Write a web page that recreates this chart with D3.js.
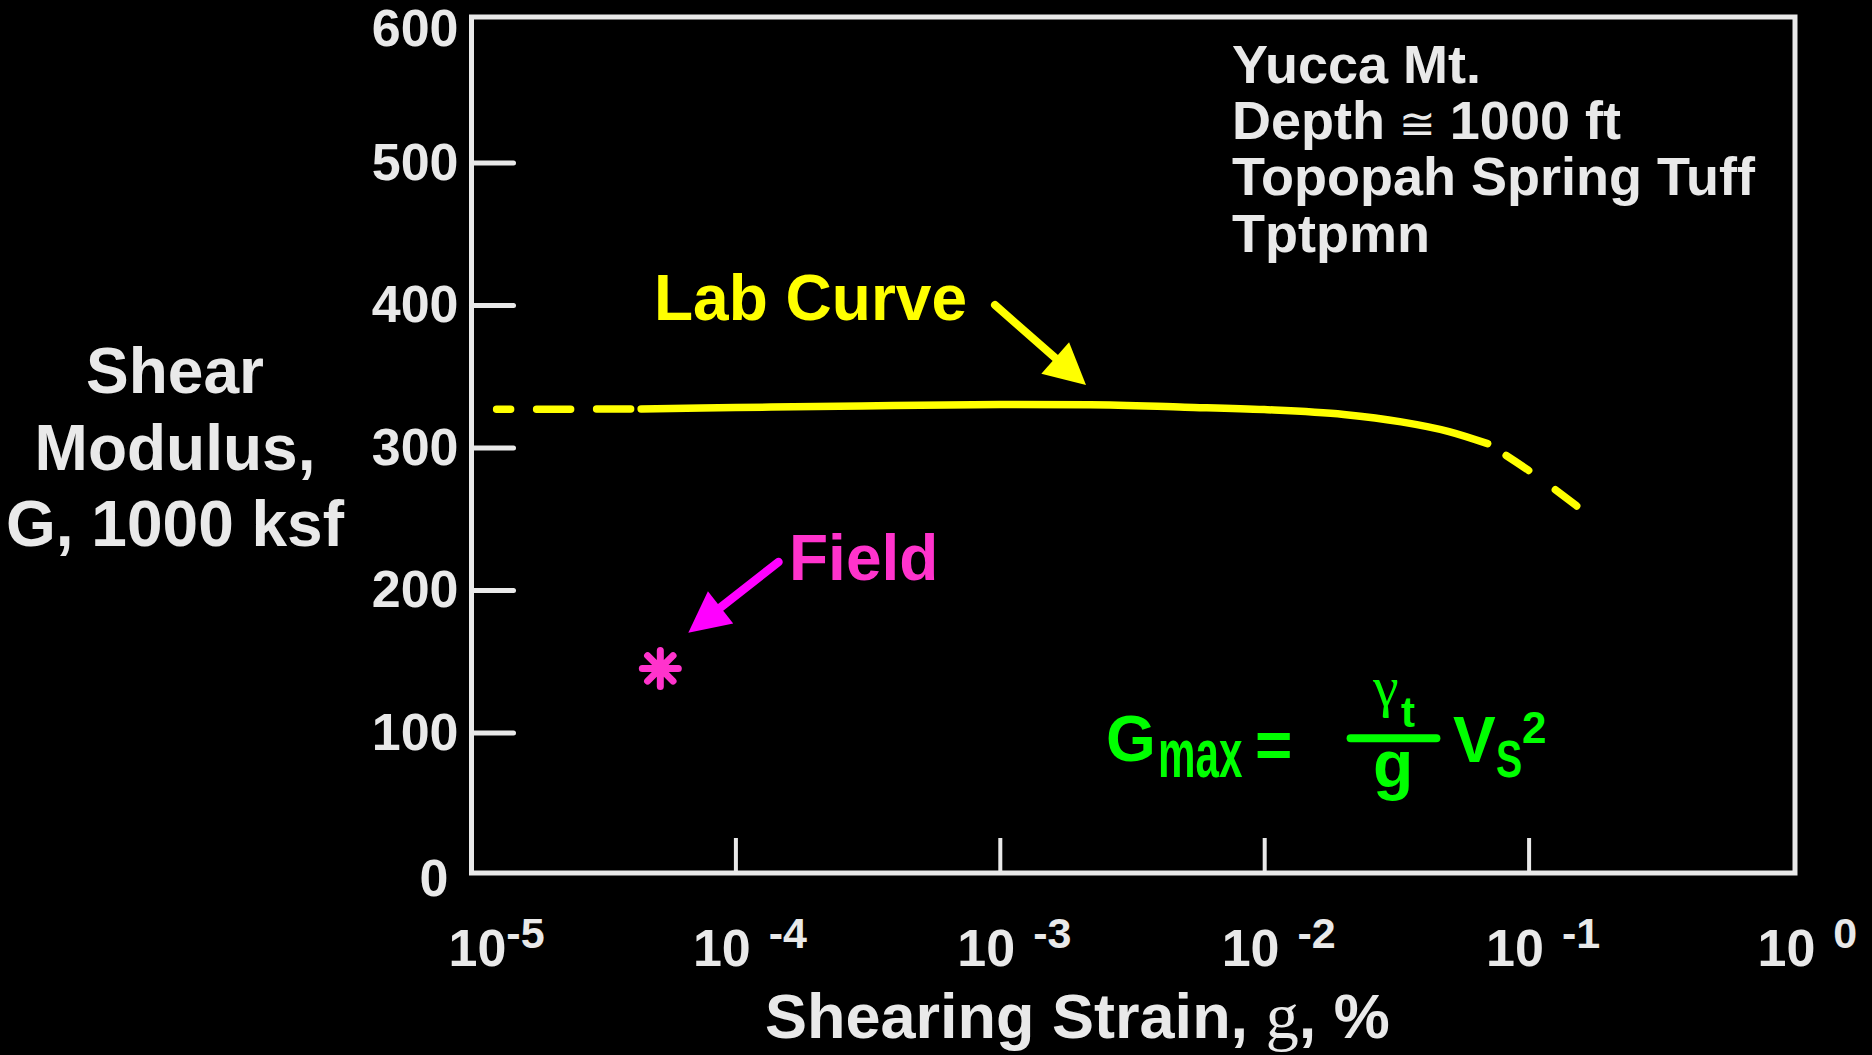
<!DOCTYPE html>
<html>
<head>
<meta charset="utf-8">
<script src="https://cdn.jsdelivr.net/npm/d3@7"></script>
<style>
  html, body { margin: 0; padding: 0; background: #000; }
  svg { display: block; }
  text { font-family: "Liberation Sans", Arial, Helvetica, sans-serif; font-weight: bold; }
</style>
</head>
<body>
<svg id="chart" width="1872" height="1055"></svg>
<script>
// Axis ticks: shearing strain (%) on a log scale, shear modulus in 1000 ksf
const xTickValues = [1e-5, 1e-4, 1e-3, 1e-2, 1e-1, 1];
const xTickExponents = ["-5", "-4", "-3", "-2", "-1", "0"];
const yTickValues = [0, 100, 200, 300, 400, 500, 600];

// Laboratory modulus reduction curve
const labStrain  = [1.25e-5, 2e-5, 4.4e-5, 1e-4, 3e-4, 1e-3, 2.2e-3, 5e-3, 1e-2, 2e-2, 3.3e-2, 5e-2, 7e-2, 1e-1, 1.52e-1];
const labModulus = [326.8, 326.9, 327.0, 328.0, 329.2, 330.1, 330.0, 328.3, 326.6, 323.2, 318.0, 311.2, 302.7, 283.9, 259.0];
// strain range covered by the test data (solid); outside it the curve is extrapolated (dashed)
const labSolidRange = [4.4e-5, 7e-2];

// Field (seismic) measurement
const fieldStrain  = [5.2e-5];
const fieldModulus = [145];

// Site description
const siteNotes = ["Yucca Mt.", "Depth", "Topopah Spring Tuff", "Tptpmn"];
const yTitleLines = ["Shear", "Modulus,", "G, 1000 ksf"];

const W = 1872, H = 1055;
const ink = "#e9e9e9";
const yellow = "#ffff00";
const pink = "#ff33cc";
const magenta = "#ff00ff";
const green = "#00ff00";

const svg = d3.select("#chart");
svg.append("rect").attr("width", W).attr("height", H).attr("fill", "#000");

const x = d3.scaleLog().domain([1e-5, 1]).range([471, 1793]);
const y = d3.scaleLinear().domain([0, 600]).range([875, 20]);

// Plot frame
svg.append("rect")
  .attr("x", 471.5).attr("y", 17)
  .attr("width", 1323.5).attr("height", 856)
  .attr("fill", "none").attr("stroke", ink).attr("stroke-width", 5);

// Y axis: inward ticks, labels on the left
const yAxisG = svg.append("g")
  .attr("transform", "translate(471.5,0)")
  .call(d3.axisLeft(y).tickValues(yTickValues).tickSizeInner(-42).tickSizeOuter(0).tickPadding(13));
yAxisG.attr("font-size", null).attr("font-family", null);
yAxisG.select(".domain").remove();
yAxisG.selectAll(".tick line")
  .attr("stroke", ink).attr("stroke-width", 5).attr("stroke-linecap", "round")
  .filter(d => d === 0 || d === 600).remove();
yAxisG.selectAll(".tick text")
  .attr("fill", ink).style("font-size", "52px")
  .attr("transform", d => d === 600 ? "translate(0,9)" : d === 0 ? "translate(-10,4)" : null);

// X axis: inward ticks, power-of-ten labels below
const xAxisG = svg.append("g")
  .attr("transform", "translate(0,873)")
  .call(d3.axisBottom(x).tickValues(xTickValues).tickSizeInner(-35).tickSizeOuter(0).tickFormat(""));
xAxisG.attr("font-size", null).attr("font-family", null).attr("text-anchor", "start");
xAxisG.select(".domain").remove();
xAxisG.selectAll(".tick text").remove();
xAxisG.selectAll(".tick line")
  .attr("stroke", ink).attr("stroke-width", 4)
  .filter(d => d === 1e-5 || d === 1).remove();
xAxisG.selectAll(".tick").each(function (d, i) {
  const lead = i === 0 ? -23 : i === xTickValues.length - 1 ? -36 : -43;
  const t = d3.select(this).append("text")
    .attr("x", lead).attr("y", 92.7)
    .attr("text-anchor", "start")
    .attr("fill", ink).style("font-size", "52px");
  t.append("tspan").text("10");
  t.append("tspan")
    .attr("dx", i === 0 ? 0 : 18).attr("dy", -18)
    .style("font-size", "43px")
    .text(xTickExponents[i]);
});

// Axis titles
const yTitle = svg.append("text")
  .attr("text-anchor", "middle").attr("fill", ink).style("font-size", "64px");
yTitleLines.forEach((s, i) => {
  yTitle.append("tspan").attr("x", 175).attr("y", 393 + i * 76.5).text(s);
});

const xTitle = svg.append("text")
  .attr("x", 765).attr("y", 1038)
  .attr("fill", ink).style("font-size", "63px");
xTitle.append("tspan").text("Shearing Strain, ");
xTitle.append("tspan")
  .style("font-family", "'Liberation Serif', 'Times New Roman', serif")
  .style("font-weight", "normal").style("font-size", "66px")
  .text("g");
xTitle.append("tspan").text(", %");

// Laboratory curve: dashed where extrapolated, solid over the tested range
const labPts = labStrain.map((s, i) => [s, labModulus[i]]);
const lineGen = d3.line().x(d => x(d[0])).y(d => y(d[1])).curve(d3.curveMonotoneX);
const labLeft  = labPts.filter(p => p[0] <= labSolidRange[0]);
const labMid   = labPts.filter(p => p[0] >= labSolidRange[0] && p[0] <= labSolidRange[1]);
const labRight = labPts.filter(p => p[0] >= labSolidRange[1]);

const labG = svg.append("g")
  .attr("fill", "none").attr("stroke", yellow)
  .attr("stroke-width", 7.5).attr("stroke-linecap", "round");
labG.append("path").attr("d", lineGen(labLeft))
  .attr("stroke-dasharray", "34 26").attr("stroke-dashoffset", 20);
labG.append("path").attr("d", lineGen(labMid));
labG.append("path").attr("d", lineGen(labRight))
  .attr("stroke-dasharray", "27 33").attr("stroke-dashoffset", 38);

// Field point drawn as an eight-armed asterisk
const arm = 18;
const fieldG = svg.append("g");
fieldStrain.forEach((s, i) => {
  const cx = x(s), cy = y(fieldModulus[i]);
  const p = d3.path();
  for (let k = 0; k < 4; k++) {
    const a = k * Math.PI / 4;
    p.moveTo(cx - arm * Math.cos(a), cy - arm * Math.sin(a));
    p.lineTo(cx + arm * Math.cos(a), cy + arm * Math.sin(a));
  }
  fieldG.append("path").attr("d", p.toString())
    .attr("stroke", pink).attr("stroke-width", 7).attr("stroke-linecap", "round");
});

// Callout arrows
function arrow(from, tip, headLen, headWidth, color, width) {
  const dx = tip[0] - from[0], dy = tip[1] - from[1];
  const len = Math.hypot(dx, dy);
  const ux = dx / len, uy = dy / len;
  const bx = tip[0] - ux * headLen, by = tip[1] - uy * headLen;
  const px = -uy * headWidth / 2, py = ux * headWidth / 2;
  svg.append("line")
    .attr("x1", from[0]).attr("y1", from[1])
    .attr("x2", bx + ux * 4).attr("y2", by + uy * 4)
    .attr("stroke", color).attr("stroke-width", width).attr("stroke-linecap", "round");
  svg.append("path")
    .attr("d", `M${tip[0]},${tip[1]}L${bx + px},${by + py}L${bx - px},${by - py}Z`)
    .attr("fill", color);
}
arrow([995, 305], [1086, 385], 41, 42, yellow, 8);
arrow([778.5, 562], [688.3, 632.7], 41, 41, magenta, 8.5);

// Callout labels
svg.append("text").attr("x", 654).attr("y", 320)
  .attr("fill", yellow).style("font-size", "64px").text("Lab Curve");
svg.append("text").attr("x", 789).attr("y", 580)
  .attr("fill", pink).style("font-size", "64px").text("Field");

// Site notes (upper right)
const notes = svg.append("text").attr("fill", ink).style("font-size", "54px");
siteNotes.forEach((s, i) => {
  notes.append("tspan").attr("x", 1232).attr("y", 83 + i * 56.2).text(s);
  if (i === 1) {
    notes.append("tspan")
      .style("font-family", "'DejaVu Sans', sans-serif").style("font-weight", "normal")
      .style("font-size", "44px").text(" \u2245 ");
    notes.append("tspan").text("1000 ft");
  }
});

// Gmax = (gamma_t / g) Vs^2
const eq = svg.append("g").attr("fill", green);
eq.append("text").attr("x", 1106).attr("y", 760.7).style("font-size", "64px").text("G");
eq.append("text").attr("transform", "translate(1158,776.7) scale(0.62,1)")
  .style("font-size", "68px").text("max");
eq.append("text").attr("x", 1255).attr("y", 767).style("font-size", "64px").text("=");
eq.append("text").attr("x", 1373).attr("y", 706)
  .style("font-family", "'Liberation Serif', 'Times New Roman', serif")
  .style("font-weight", "normal").style("font-size", "58px").text("\u03b3");
eq.append("text").attr("x", 1401).attr("y", 727).style("font-size", "42px").text("t");
eq.append("line")
  .attr("x1", 1350.6).attr("x2", 1436.4).attr("y1", 738.3).attr("y2", 738.3)
  .attr("stroke", green).attr("stroke-width", 8).attr("stroke-linecap", "round");
eq.append("text").attr("x", 1373).attr("y", 787).style("font-size", "66px").text("g");
eq.append("text").attr("x", 1453).attr("y", 761.7).style("font-size", "64px").text("V");
eq.append("text").attr("transform", "translate(1496,776.7) scale(0.77,1)")
  .style("font-size", "51px").text("S");
eq.append("text").attr("x", 1522).attr("y", 743.3).style("font-size", "44px").text("2");
</script>
</body>
</html>
